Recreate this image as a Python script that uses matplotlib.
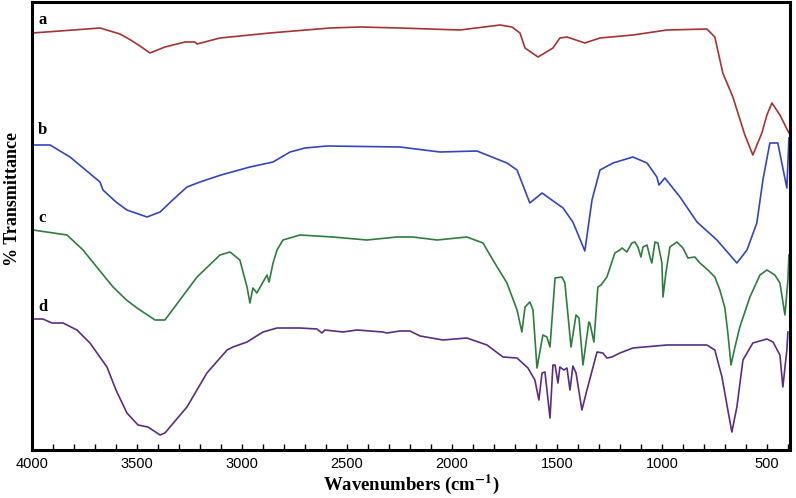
import matplotlib
matplotlib.use('Agg')
import matplotlib.pyplot as plt
from matplotlib.ticker import MultipleLocator

# FTIR spectra (wavenumber in cm-1, transmittance in arbitrary units, curves stacked)
wn_a = [4000, 3867, 3676, 3581, 3530, 3486, 3438, 3367, 3271, 3224, 3214, 3105, 2867, 2581, 2438, 2248,
        1962, 1771, 1714, 1676, 1652, 1590, 1519, 1486, 1452, 1367, 1295, 1138, 976, 786, 748,
        710, 662, 605, 567, 524, 500, 476, 438, 395]
t_a = [417, 419, 422, 416, 410, 404, 397, 403, 408, 408, 406, 412, 417, 422, 423, 422,
       420, 425, 423, 417, 402, 393, 402, 412, 413, 407, 412, 415, 420, 421, 413,
       377, 353, 315, 295, 317, 335, 347, 335, 317]

wn_b = [3995, 3914, 3819, 3676, 3662, 3600, 3548, 3452, 3390, 3330, 3262, 3200, 3100, 2962, 2852,
        2771, 2700, 2595, 2248, 2057, 1881, 1738, 1690, 1629, 1571, 1471, 1424, 1367, 1333, 1295,
        1233, 1138, 1071, 1024, 1014, 986, 914, 833, 738, 643, 595, 548, 519, 486, 448, 405, 395]
t_b = [305, 305, 293, 268, 260, 248, 240, 233, 238, 250, 263, 268, 275, 283, 288,
       298, 302, 304, 303, 298, 299, 287, 280, 247, 257, 242, 228, 199, 250, 280,
       287, 293, 287, 273, 265, 272, 253, 228, 210, 187, 200, 227, 270, 307, 307, 262, 312]

wn_c = [3995, 3833, 3757, 3680, 3614, 3550, 3500, 3414, 3367, 3214, 3105, 3057, 3010, 2976, 2962,
        2948, 2929, 2881, 2871, 2852, 2833, 2805, 2724, 2567, 2405, 2262, 2186, 2071, 1929, 1852,
        1805, 1738, 1690, 1667, 1652, 1629, 1614, 1595, 1567, 1548, 1533, 1509, 1476, 1462, 1433,
        1409, 1395, 1376, 1348, 1343, 1324, 1305, 1290, 1262, 1224, 1200, 1190, 1167, 1143, 1129,
        1114, 1100, 1090, 1071, 1057, 1048, 1033, 1019, 1000, 995, 981, 962, 929, 900, 876,
        843, 819, 781, 748, 724, 700, 686, 671, 652, 629, 581, 533, 500, 462, 438, 414, 400, 395]
t_c = [220, 215, 200, 180, 163, 150, 142, 130, 130, 173, 195, 198, 190, 163, 147,
       162, 157, 175, 168, 187, 200, 210, 215, 213, 210, 213, 213, 210, 213, 207,
       190, 167, 140, 118, 143, 148, 140, 82, 115, 113, 103, 172, 173, 167, 103,
       135, 132, 85, 128, 127, 108, 163, 165, 173, 197, 200, 202, 198, 207, 208,
       203, 193, 203, 205, 193, 187, 208, 207, 187, 153, 177, 203, 208, 202, 192,
       193, 187, 180, 173, 160, 142, 117, 85, 103, 123, 153, 175, 180, 175, 167, 135, 170, 195]

wn_d = [3986, 3948, 3905, 3852, 3786, 3724, 3643, 3600, 3548, 3495, 3448, 3390, 3367, 3262, 3167,
        3071, 3043, 2976, 2900, 2833, 2724, 2643, 2619, 2605, 2519, 2452, 2329, 2310, 2248, 2200,
        2152, 2043, 1929, 1833, 1757, 1690, 1638, 1605, 1586, 1571, 1557, 1533, 1519, 1509, 1495,
        1486, 1467, 1452, 1438, 1424, 1409, 1381, 1357, 1309, 1281, 1262, 1238, 1200, 1138, 976,
        900, 786, 748, 714, 686, 667, 643, 614, 567, 500, 471, 438, 424, 405, 400]
t_d = [131, 131, 127, 127, 120, 107, 83, 60, 37, 25, 23, 15, 17, 43, 77,
       100, 103, 108, 118, 122, 122, 121, 117, 120, 118, 120, 118, 117, 119, 119,
       114, 110, 112, 105, 93, 92, 82, 70, 50, 77, 78, 32, 85, 85, 67,
       83, 80, 82, 60, 84, 77, 40, 60, 98, 97, 92, 93, 97, 102, 105,
       105, 105, 100, 73, 40, 18, 43, 90, 107, 111, 108, 95, 63, 100, 118]

curve_labels = ['a', 'b', 'c', 'd']
label_y = [430, 320, 232, 143]
colors = ['#a83232', '#3345c0', '#2e7d3e', '#5a2d82']

plt.rcParams['mathtext.fontset'] = 'stix'

fig = plt.figure(figsize=(7.96, 4.98), dpi=100)
ax = fig.add_axes([32 / 796, 48 / 498, 758 / 796, 448 / 498])

series = [(wn_a, t_a), (wn_b, t_b), (wn_c, t_c), (wn_d, t_d)]
for (wn, t), col in zip(series, colors):
    ax.plot(wn, t, color=col, linewidth=1.2)

for lab, ly in zip(curve_labels, label_y):
    ax.text(3950, ly, lab, fontsize=12, fontweight='bold', family='Liberation Serif',
            ha='center', va='center')

ax.set_xlim(4000, 390)
ax.set_ylim(0, 448)
ax.xaxis.set_major_locator(MultipleLocator(500))
ax.xaxis.set_minor_locator(MultipleLocator(100))
ax.tick_params(axis='x', which='both', direction='in', length=4, width=1, pad=5,
               labelsize=10.5)
ax.set_yticks([])
for lbl in ax.get_xticklabels():
    lbl.set_family('Liberation Sans')
for sp in ax.spines.values():
    sp.set_linewidth(2.2)

ax.set_xlabel(r'Wavenumbers (cm$^{\mathbf{-1}}$)', fontsize=13.5, fontweight='bold',
              family='Liberation Serif', labelpad=1)
ax.set_ylabel('% Transmittance', fontsize=13, fontweight='bold', family='Liberation Serif')
ax.yaxis.set_label_coords(-0.015, 0.56)

fig.savefig('out.png', dpi=100)
